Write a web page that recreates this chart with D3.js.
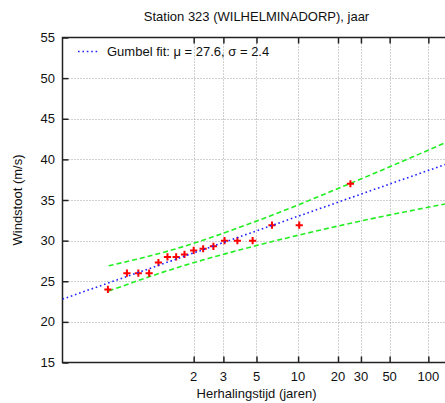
<!DOCTYPE html>
<html>
<head>
<meta charset="utf-8">
<script src="https://cdn.jsdelivr.net/npm/d3@7"></script>
<style>
  html, body { margin: 0; padding: 0; background: #fff; }
  svg { display: block; font-family: "Liberation Sans", Arial, Helvetica, sans-serif; }
</style>
</head>
<body>
<svg id="chart" width="445" height="403"></svg>
<script>
// Annual maximum wind gusts, station 323 Wilhelminadorp
const returnPeriod = [1.04, 1.11, 1.18, 1.27, 1.37, 1.49, 1.63, 1.79, 2.00,
                      2.26, 2.60, 3.05, 3.70, 4.70, 6.44, 10.2, 24.9];
const windGust = [24.0, 26.0, 26.0, 26.0, 27.3, 28.0, 28.0, 28.3, 28.8,
                  29.0, 29.3, 30.0, 30.0, 30.0, 31.9, 31.9, 37.0];

// Gumbel fit parameters
const gumbelMu = 27.6;
const gumbelSigma = 2.4;

// Confidence band around the fit
const bandPeriod = [1.042, 1.6, 5, 25, 150];
const bandUpper = [26.9, 28.94, 32.4, 37.06, 42.35];
const bandLower = [23.8, 26.57, 29.39, 32.14, 34.65];

// Axis ticks
const xTickPeriods = [2, 3, 5, 10, 20, 30, 50, 100];
const xTickLabels = ["2", "3", "5", "10", "20", "30", "50", "100"];
const yTicks = [15, 20, 25, 30, 35, 40, 45, 50, 55];

// Gumbel reduced variate of a return period
const reduced = T => -Math.log(-Math.log(1 - 1 / T));

const plotLeft = 62.5, plotRight = 450.5, plotTop = 37.5, plotBottom = 362.5;
const x = d3.scaleLinear().domain([-2, 5]).range([plotLeft, plotRight]);
const y = d3.scaleLinear().domain([15, 55]).range([plotBottom, plotTop]);

const svg = d3.select("#chart");

svg.append("defs").append("clipPath").attr("id", "plot")
  .append("rect").attr("x", plotLeft).attr("y", plotTop)
  .attr("width", plotRight - plotLeft).attr("height", plotBottom - plotTop);

// grid
const grid = svg.append("g").attr("stroke", "#a0a0a0").attr("stroke-width", 1)
  .attr("stroke-dasharray", "1,2").attr("fill", "none");
yTicks.filter(v => v > 15 && v < 55).forEach(v => {
  grid.append("line").attr("x1", plotLeft).attr("x2", plotRight)
    .attr("y1", Math.round(y(v)) + 0.5).attr("y2", Math.round(y(v)) + 0.5);
});
xTickPeriods.forEach(T => {
  const px = Math.round(x(reduced(T))) + 0.5;
  grid.append("line").attr("x1", px).attr("x2", px).attr("y1", plotTop).attr("y2", plotBottom);
});

// axes (ticks pointing inward)
const tickLen = 6;
const axisLeft = d3.axisRight(y).tickValues(yTicks).tickSize(tickLen).tickFormat("");
svg.append("g").attr("transform", `translate(${plotLeft},0)`).call(axisLeft)
  .call(g => g.select(".domain").remove())
  .call(g => g.selectAll("line").attr("stroke", "#222").attr("stroke-width", 1.5));

svg.append("g").selectAll("text").data(yTicks).join("text")
  .attr("x", 55).attr("y", d => y(d)).attr("dy", "0.35em")
  .attr("text-anchor", "end").attr("font-size", 13).attr("fill", "#111")
  .text(d => d);

const xTickU = xTickPeriods.map(reduced);
const axisBottom = d3.axisTop(x).tickValues(xTickU).tickSize(tickLen).tickFormat("");
svg.append("g").attr("transform", `translate(0,${plotBottom})`).call(axisBottom)
  .call(g => g.select(".domain").remove())
  .call(g => g.selectAll("line").attr("stroke", "#222").attr("stroke-width", 1.5));
const axisTop = d3.axisBottom(x).tickValues(xTickU).tickSize(tickLen).tickFormat("");
svg.append("g").attr("transform", `translate(0,${plotTop})`).call(axisTop)
  .call(g => g.select(".domain").remove())
  .call(g => g.selectAll("line").attr("stroke", "#222").attr("stroke-width", 1.5));

svg.append("g").selectAll("text").data(xTickU).join("text")
  .attr("x", d => x(d)).attr("y", 381)
  .attr("text-anchor", "middle").attr("font-size", 13).attr("fill", "#111")
  .text((d, i) => xTickLabels[i]);

// frame
svg.append("rect").attr("x", plotLeft).attr("y", plotTop)
  .attr("width", plotRight - plotLeft).attr("height", plotBottom - plotTop)
  .attr("fill", "none").attr("stroke", "#222").attr("stroke-width", 1.5);

const plot = svg.append("g").attr("clip-path", "url(#plot)");

// confidence band
const bandLine = d3.line().x(d => x(reduced(d[0]))).y(d => y(d[1])).curve(d3.curveMonotoneX);
[bandUpper, bandLower].forEach(vals => {
  plot.append("path")
    .attr("d", bandLine(bandPeriod.map((T, i) => [T, vals[i]])))
    .attr("fill", "none").attr("stroke", "#22ee22").attr("stroke-width", 1.6)
    .attr("stroke-dasharray", "5,3");
});

// observed maxima
const cross = 3.6;
plot.append("g").selectAll("path").data(returnPeriod).join("path")
  .attr("d", (T, i) => {
    const px = x(reduced(T)), py = y(windGust[i]);
    return `M${px - cross},${py}H${px + cross}M${px},${py - cross}V${py + cross}`;
  })
  .attr("stroke", "#ff0000").attr("stroke-width", 2).attr("fill", "none");

// Gumbel fit line
const fitU = x.domain();
plot.append("line")
  .attr("x1", x(fitU[0])).attr("y1", y(gumbelMu + gumbelSigma * fitU[0]))
  .attr("x2", x(fitU[1])).attr("y2", y(gumbelMu + gumbelSigma * fitU[1]))
  .attr("stroke", "#2222ff").attr("stroke-width", 1.6).attr("stroke-dasharray", "1.6,2.8");

// legend
svg.append("line").attr("x1", 78).attr("x2", 98).attr("y1", 51.5).attr("y2", 51.5)
  .attr("stroke", "#2222ff").attr("stroke-width", 1.6).attr("stroke-dasharray", "1.6,2.8");
svg.append("text").attr("x", 107).attr("y", 56).attr("font-size", 13).attr("fill", "#111")
  .text(`Gumbel fit: μ = ${gumbelMu}, σ = ${gumbelSigma}`);

// titles
svg.append("text").attr("x", 256.5).attr("y", 21).attr("text-anchor", "middle")
  .attr("font-size", 13).attr("fill", "#111")
  .text("Station 323 (WILHELMINADORP), jaar");
svg.append("text").attr("x", 256.5).attr("y", 398).attr("text-anchor", "middle")
  .attr("font-size", 13).attr("fill", "#111").text("Herhalingstijd (jaren)");
svg.append("text").attr("transform", "translate(22,200) rotate(-90)")
  .attr("text-anchor", "middle").attr("font-size", 13).attr("fill", "#111")
  .text("Windstoot (m/s)");
</script>
</body>
</html>
